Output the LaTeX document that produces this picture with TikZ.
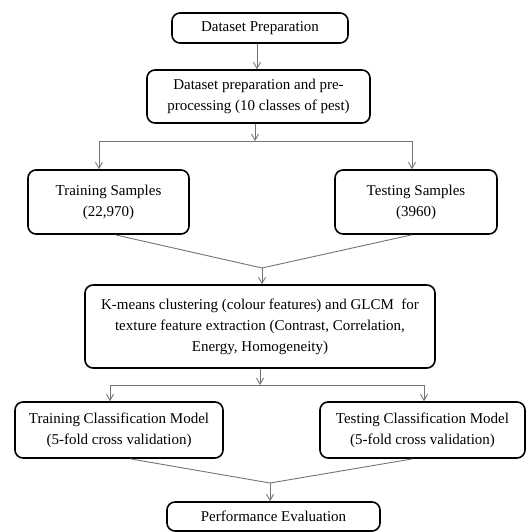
\documentclass[tikz,border=0pt]{standalone}
\usepackage{fontspec}
\setmainfont{Liberation Serif}
\usetikzlibrary{arrows.meta}
\begin{document}
\begin{tikzpicture}[x=1pt,y=-1pt,
  box/.style={draw=black, line width=1.6pt, rounded corners=8pt, align=center,
    inner sep=0pt, font=\fontsize{15}{21}\selectfont},
  conn/.style={draw=black!55, line width=0.9pt},
  arr/.style={conn, -{Straight Barb[length=6pt,width=7pt]}}]
\useasboundingbox (0,0) rectangle (527,532);
\node[box, minimum width=176pt, minimum height=30pt] (b1) at (260,28) {Dataset Preparation};
\node[box, minimum width=223pt, minimum height=53pt] (b2) at (258.5,96.5) {Dataset preparation and pre-\\processing (10 classes of pest)};
\node[box, minimum width=161pt, minimum height=64pt] (b3) at (108.5,202) {Training Samples\\(22,970)};
\node[box, minimum width=162pt, minimum height=64pt] (b4) at (416,202) {Testing Samples\\(3960)};
\node[box, minimum width=350pt, minimum height=83pt] (b5) at (260,326.5) {K-means clustering (colour features) and GLCM\ \ for\\texture feature extraction (Contrast, Correlation,\\Energy, Homogeneity)};
\node[box, minimum width=208pt, minimum height=56pt] (b6) at (119,430) {Training Classification Model\\(5-fold cross validation)};
\node[box, minimum width=205pt, minimum height=56pt] (b7) at (422.5,430) {Testing Classification Model\\(5-fold cross validation)};
\node[box, minimum width=213pt, minimum height=29pt] (b8) at (273.5,516.5) {Performance Evaluation};
% junction coordinates
\coordinate (s1) at (255,141);
\coordinate (s1l) at (99,141);
\coordinate (s1r) at (412,141);
\coordinate (m1) at (262,268);
\coordinate (s2) at (260,385);
\coordinate (s2l) at (110,385);
\coordinate (s2r) at (424,385);
\coordinate (m2) at (270,483);
% connectors
\draw[arr] ([xshift=-3pt]b1.south) -- ([xshift=-1.5pt]b2.north);
\draw[arr] ([xshift=-3.5pt]b2.south) -- (s1);
\draw[conn] (s1l) -- (s1r);
\draw[arr] (s1l) -- (s1l |- b3.north);
\draw[arr] (s1r) -- (s1r |- b4.north);
\draw[conn] ([xshift=6.5pt]b3.south) -- (m1);
\draw[conn] ([xshift=-4pt]b4.south) -- (m1);
\draw[arr] (m1) -- (m1 |- b5.north);
\draw[arr] (b5.south) -- (s2);
\draw[conn] (s2l) -- (s2r);
\draw[arr] (s2l) -- (s2l |- b6.north);
\draw[arr] (s2r) -- (s2r |- b7.north);
\draw[conn] ([xshift=11pt]b6.south) -- (m2);
\draw[conn] ([xshift=-9.5pt]b7.south) -- (m2);
\draw[arr] (m2) -- (m2 |- b8.north);
\end{tikzpicture}
\end{document}
